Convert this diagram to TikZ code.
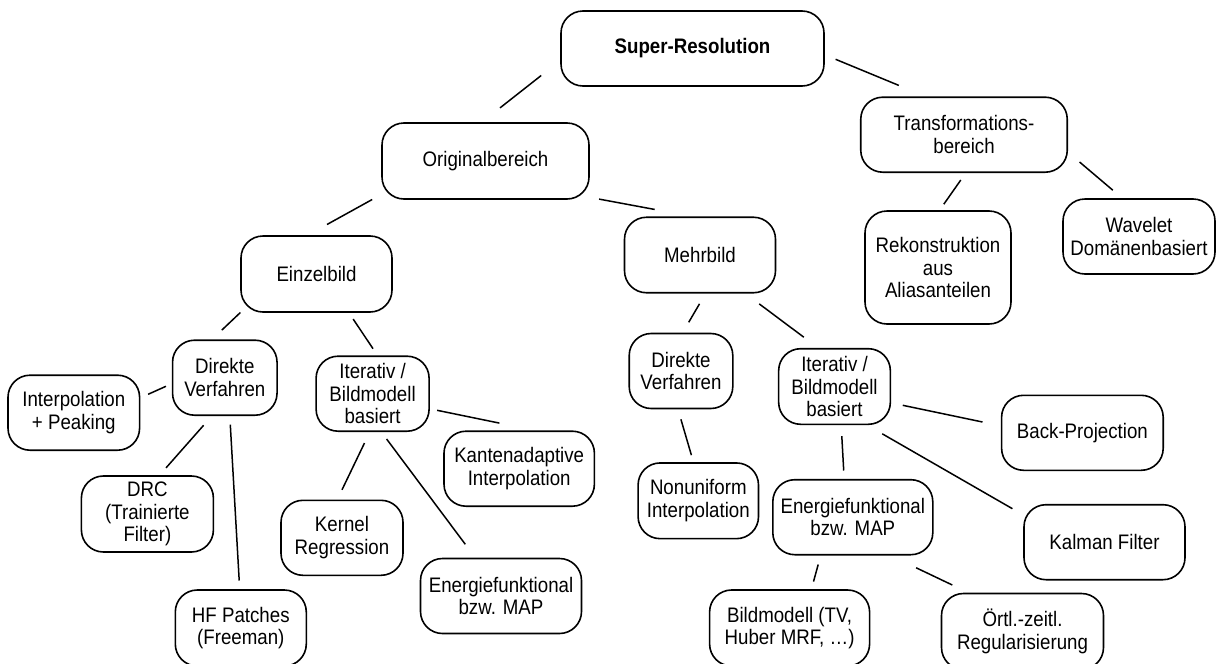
\documentclass[tikz,border=0pt]{standalone}
\usepackage{fontspec}
\setmainfont{Liberation Sans}[FakeStretch=0.89]
\begin{document}
\begin{tikzpicture}[x=1pt,y=-1pt,
  box/.style={draw, line width=1.6pt, rounded corners=22pt, align=center,
    inner sep=0pt, font=\fontsize{21}{22.5}\selectfont},
  link/.style={line width=1.5pt},
]
\clip (0,0) rectangle (1216,664);
\fill[white] (0,0) rectangle (1216,664);

% top levels
\node[box, minimum width=263pt, minimum height=75pt] (sr) at (692.5,48.5) {\textbf{Super-Resolution}};
\node[box, minimum width=207pt, minimum height=76pt] (orig) at (485.5,161) {Originalbereich};
\node[box, minimum width=206.5pt, minimum height=75pt] (transf) at (964,134.7) {Transformations-\\bereich};
\node[box, minimum width=151pt, minimum height=76pt] (einzel) at (316.5,274) {Einzelbild};
\node[box, minimum width=151pt, minimum height=75.5pt] (mehr) at (700,255) {Mehrbild};
\node[box, minimum width=146pt, minimum height=113pt] (rekon) at (938,267.5) {Rekonstruktion\\aus\\Aliasanteilen};
\node[box, minimum width=152pt, minimum height=75pt] (wavelet) at (1139,236.5) {Wavelet\\Domänenbasiert};

% single-image branch
\node[box, minimum width=104.5pt, minimum height=75pt] (dir1) at (224.8,377.7) {Direkte\\Verfahren};
\node[box, minimum width=131.6pt, minimum height=75pt] (interp) at (73.8,412.7) {Interpolation\\+ Peaking};
\node[box, minimum width=113pt, minimum height=75pt] (iter1) at (372.6,393.7) {Iterativ /\\Bildmodell\\basiert};
\node[box, minimum width=132pt, minimum height=76pt] (drc) at (147.4,514) {DRC\\(Trainierte\\Filter)};
\node[box, minimum width=131pt, minimum height=76pt] (hf) at (240.8,628) {HF Patches\\(Freeman)};
\node[box, minimum width=150.4pt, minimum height=75pt] (kanten) at (519.2,468.7) {Kantenadaptive\\Interpolation};
\node[box, minimum width=122pt, minimum height=75pt] (kernel) at (342,537.8) {Kernel\\Regression};
\node[box, minimum width=161pt, minimum height=75pt] (en1) at (501,596) {Energiefunktional\\bzw. MAP};

% multi-image branch
\node[box, minimum width=103.6pt, minimum height=75pt] (dir2) at (681,371) {Direkte\\Verfahren};
\node[box, minimum width=111.7pt, minimum height=75.6pt] (iter2) at (834.5,386.5) {Iterativ /\\Bildmodell\\basiert};
\node[box, minimum width=120.4pt, minimum height=75.7pt] (nonuni) at (698.3,500.8) {Nonuniform\\Interpolation};
\node[box, minimum width=161.6pt, minimum height=75pt] (back) at (1082.4,432.8) {Back-Projection};
\node[box, minimum width=160pt, minimum height=75pt] (en2) at (852.8,517.2) {Energiefunktional\\bzw. MAP};
\node[box, minimum width=161pt, minimum height=75pt] (kalman) at (1104.5,542.2) {Kalman Filter};
\node[box, minimum width=160pt, minimum height=76pt] (bild) at (789.6,628) {Bildmodell (TV,\\Huber MRF, …)};
\node[box, minimum width=162pt, minimum height=76pt] (oertl) at (1022.5,631.5) {Örtl.-zeitl.\\Regularisierung};

% connectors (drawn with small gaps to the boxes)
\draw[link] ([shift={(-19,-11.3)}]sr.south west) -- ([shift={(14.5,-14.3)}]orig.north);
\draw[link] ([shift={(10.8,10.8)}]sr.east) -- ([shift={(-65.2,-11)}]transf.north);
\draw[link] ([shift={(-9,-0.3)}]orig.south west) -- ([shift={(10.5,-10.7)}]einzel.north);
\draw[link] ([shift={(9.3,-0.7)}]orig.south east) -- ([shift={(31,-7)}]mehr.north west);
\draw[link] ([shift={(-3.2,7)}]transf.south) -- ([shift={(5.8,-6)}]rekon.north);
\draw[link] ([shift={(11.5,-11)}]transf.south east) -- ([shift={(-26.2,-8)}]wavelet.north);
\draw[link] ([shift={(0.2,-0.3)}]einzel.south west) -- ([shift={(-3,-9.3)}]dir1.north);
\draw[link] ([shift={(36.7,6.3)}]einzel.south) -- ([shift={(0.4,-6.7)}]iter1.north);
\draw[link] ([shift={(-0.5,10.3)}]mehr.south) -- ([shift={(7.7,-10.4)}]dir2.north);
\draw[link] ([shift={(-17.1,10.3)}]mehr.south east) -- ([shift={(-30.7,-10.7)}]iter2.north);
\draw[link] ([shift={(-5.8,8.6)}]dir1.west) -- ([shift={(7.7,-18.4)}]interp.east);
\draw[link] ([shift={(-21.2,9.3)}]dir1.south) -- ([shift={(18.6,-7.3)}]drc.north);
\draw[link] ([shift={(5.5,8.7)}]dir1.south) -- ([shift={(-1.6,-8.7)}]hf.north);
\draw[link] ([shift={(7.2,16.6)}]iter1.east) -- ([shift={(-19.8,-7.3)}]kanten.north);
\draw[link] ([shift={(-8.1,11)}]iter1.south) -- ([shift={(0,-9.7)}]kernel.north);
\draw[link] ([shift={(14,7)}]iter1.south) -- ([shift={(-35.7,-13.4)}]en1.north);
\draw[link] ([shift={(-0.1,10)}]dir2.south) -- ([shift={(-6.9,-7)}]nonuni.north);
\draw[link] ([shift={(11.6,18.8)}]iter2.east) -- ([shift={(-18.3,-10.8)}]back.west);
\draw[link] ([shift={(7.3,11)}]iter2.south) -- ([shift={(-9.1,-8.4)}]en2.north);
\draw[link] ([shift={(-8.9,8.7)}]iter2.south east) -- ([shift={(-10.8,-33.5)}]kalman.west);
\draw[link] ([shift={(-34.6,9)}]en2.south) -- ([shift={(23.9,-7.6)}]bild.north);
\draw[link] ([shift={(-17.4,12.3)}]en2.south east) -- ([shift={(11.6,-7.7)}]oertl.north west);
\end{tikzpicture}
\end{document}
